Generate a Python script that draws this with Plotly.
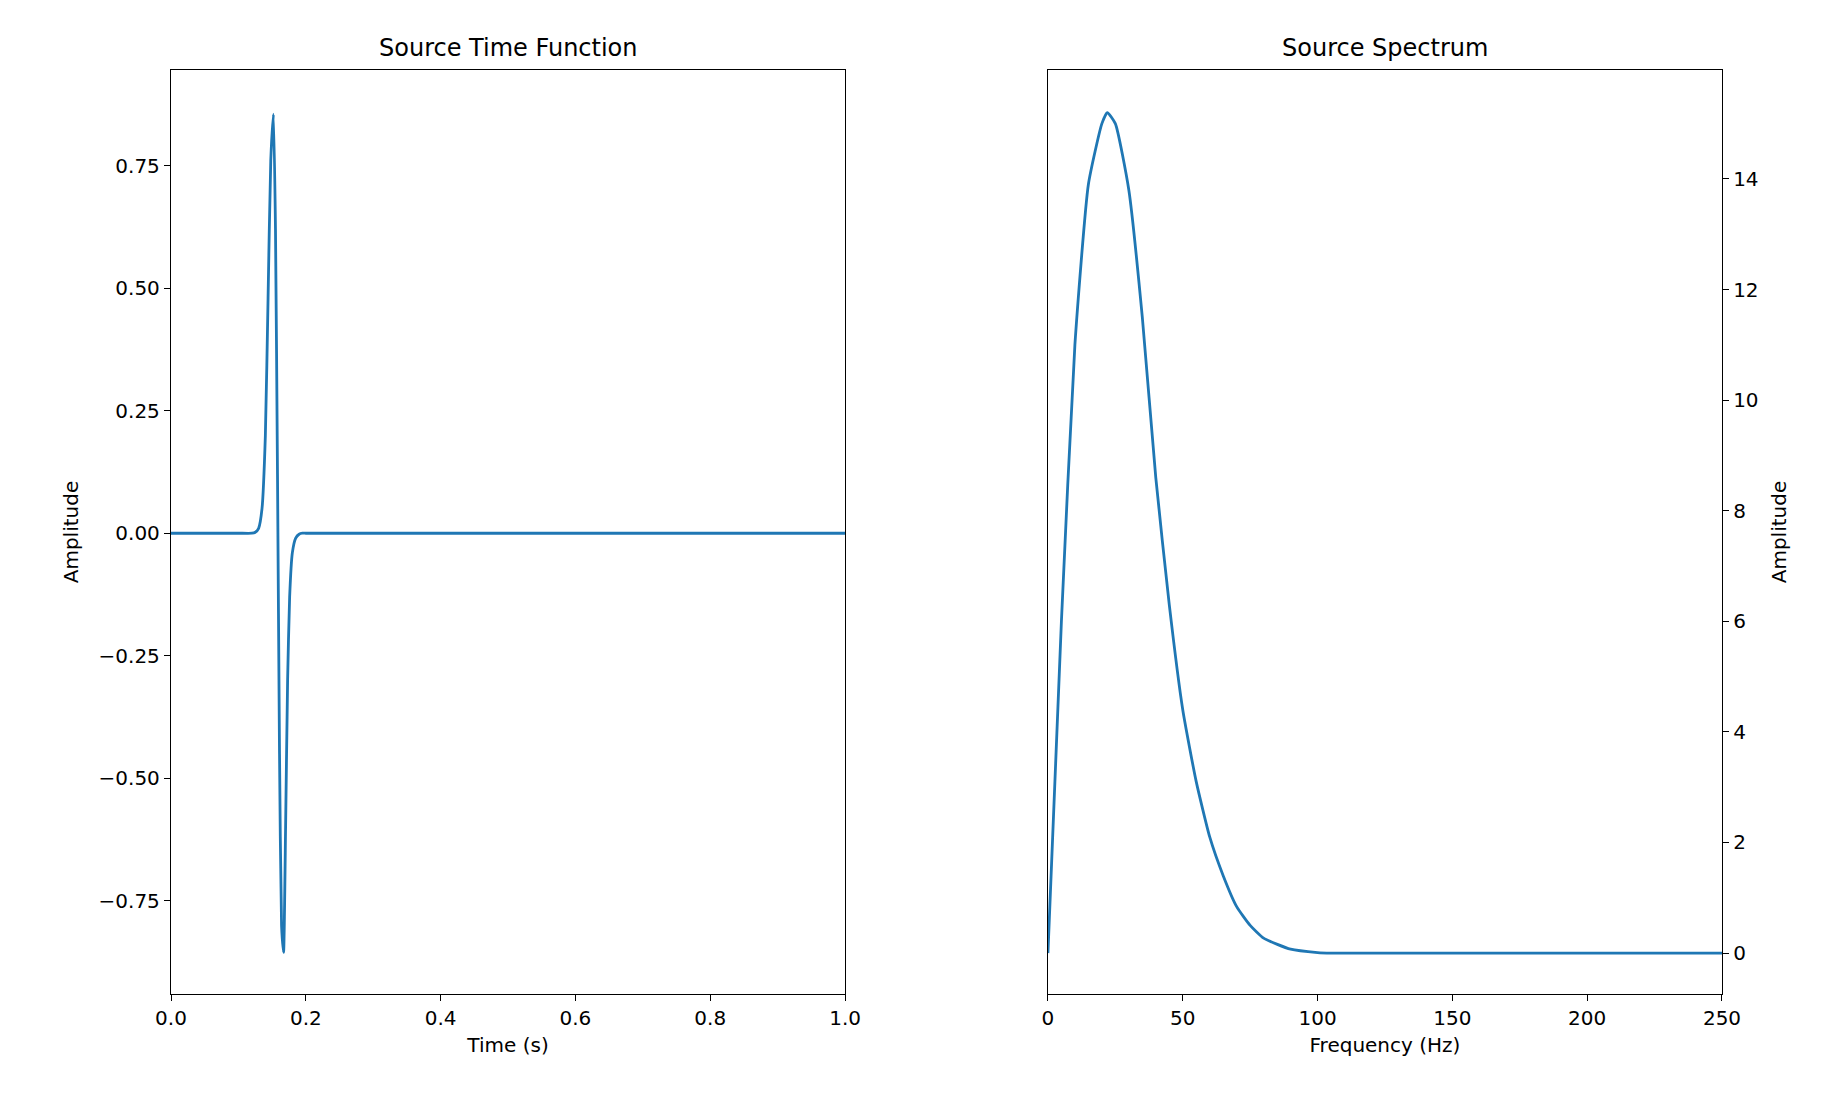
import plotly.graph_objects as go
from plotly.subplots import make_subplots

time_s = [0, 0.1, 0.12, 0.125, 0.13, 0.135, 0.14, 0.144, 0.148, 0.152, 0.155, 0.158, 0.161,
          0.164, 0.167, 0.170, 0.173, 0.176, 0.18, 0.185, 0.19, 0.195, 0.2, 0.25, 0.5, 1.0]
amp_t = [0, 0, 0, 0.002, 0.01, 0.05, 0.2, 0.48, 0.76, 0.855, 0.62, 0.12, -0.45,
         -0.8, -0.855, -0.6, -0.3, -0.13, -0.04, -0.01, -0.002, 0, 0, 0, 0, 0]

freq_hz = [0, 5, 10, 15, 20, 22, 25, 30, 35, 40, 45, 50, 55, 60, 65, 70, 75, 80, 90, 100,
           105, 110, 120, 150, 200, 250]
amp_f = [0, 6.0, 11.0, 13.9, 15.0, 15.2, 15.0, 13.8, 11.5, 8.6, 6.3, 4.4, 3.1, 2.1, 1.4,
         0.84, 0.5, 0.27, 0.07, 0.01, 0, 0, 0, 0, 0, 0]

blue = '#1f77b4'
font = dict(family='DejaVu Sans', size=20, color='black')

fig = make_subplots(rows=1, cols=2)
fig.add_trace(go.Scatter(x=time_s, y=amp_t, mode='lines',
                         line=dict(color=blue, width=2.8, shape='spline', smoothing=0.5)), row=1, col=1)
fig.add_trace(go.Scatter(x=freq_hz, y=amp_f, mode='lines',
                         line=dict(color=blue, width=2.8, shape='spline', smoothing=0.5)), row=1, col=2)

axis_style = dict(showgrid=False, zeroline=False, showline=True, linecolor='black', linewidth=1.3,
                  mirror=True, ticks='outside', ticklen=6, tickcolor='black', tickfont=font)
fig.update_xaxes(**axis_style)
fig.update_yaxes(**axis_style)

fig.update_layout(
    width=1827, height=1093, showlegend=False,
    plot_bgcolor='white', paper_bgcolor='white', font=font,
    margin=dict(l=163, r=113, t=62, b=107),
    xaxis=dict(domain=[0, 0.4346], range=[0, 1], tickvals=[0, 0.2, 0.4, 0.6, 0.8, 1.0],
               ticktext=['0.0', '0.2', '0.4', '0.6', '0.8', '1.0'],
               title=dict(text='Time (s)', font=font, standoff=8)),
    yaxis=dict(range=[-0.94, 0.945], tickvals=[-0.75, -0.5, -0.25, 0, 0.25, 0.5, 0.75],
               ticktext=['\u22120.75', '\u22120.50', '\u22120.25', '0.00', '0.25', '0.50', '0.75'],
               title=dict(text='Amplitude', font=font, standoff=14)),
    xaxis2=dict(domain=[0.5654, 1], range=[0, 250], tickvals=[0, 50, 100, 150, 200, 250],
                title=dict(text='Frequency (Hz)', font=font, standoff=8)),
    yaxis2=dict(range=[-0.74, 15.97], side='right', tickvals=[0, 2, 4, 6, 8, 10, 12, 14],
                title=dict(text='Amplitude', font=font, standoff=14)),
    annotations=[
        dict(text='Source Time Function', x=0.2173, y=1.0, xref='paper', yref='paper',
             xanchor='center', yanchor='bottom', yshift=6, showarrow=False,
             font=dict(family='DejaVu Sans', size=24)),
        dict(text='Source Spectrum', x=0.7827, y=1.0, xref='paper', yref='paper',
             xanchor='center', yanchor='bottom', yshift=6, showarrow=False,
             font=dict(family='DejaVu Sans', size=24)),
    ],
)

fig.write_html("out.html")
